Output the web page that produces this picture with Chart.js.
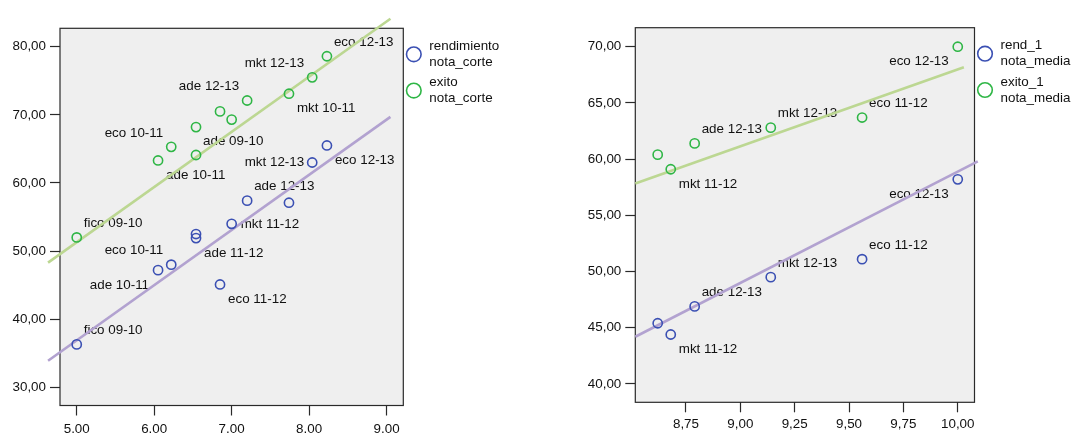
<!DOCTYPE html>
<html>
<head>
<meta charset="utf-8">
<script src="https://cdn.jsdelivr.net/npm/chart.js@4.4.0/dist/chart.umd.min.js"></script>
<style>
    html, body { margin: 0; padding: 0; background: #fff; }
    #wrap { position: relative; width: 1072px; height: 433px; overflow: hidden; }
    canvas { position: absolute; top: 0; }
    #left { left: 0; }
    #right { left: 540px; }
</style>
</head>
<body>
<div id="wrap">
    <canvas id="left" width="540" height="433"></canvas>
    <canvas id="right" width="532" height="433"></canvas>
</div>
<script>
// ---- left panel: nota_corte ----
const corteX      = [5.00, 6.05, 6.22, 6.54, 6.54, 6.85, 7.00, 7.20, 7.74, 8.04, 8.23];
const corteRend   = [36.3, 47.2, 48.0, 52.5, 51.9, 45.1, 54.0, 57.4, 57.1, 63.0, 65.5];
const corteExito  = [52.0, 63.3, 65.3, 64.1, 68.2, 70.5, 69.3, 72.1, 73.1, 75.5, 78.6];
const corteNames  = ['fico 09-10', 'ade 10-11', 'eco 10-11', 'ade 09-10', 'ade 11-12', 'eco 11-12',
                     'mkt 11-12', 'ade 12-13', 'mkt 10-11', 'mkt 12-13', 'eco 12-13'];
// where each name sits next to its point (null = not labelled)
const corteRendPlace  = ['ur', 'dl', 'ul', null, 'dr', 'dr', 'r', 'ur', null, 'l', 'dr'];
const corteExitoPlace = ['ur', 'dr', 'ul', 'ur', null, null, null, 'ul', 'dr', 'ul', 'ur'];
// fit lines (end points)
const corteFitX     = [4.63, 9.05];
const corteFitRend  = [33.9, 69.7];
const corteFitExito = [48.3, 84.1];
const corteXTicks = [5, 6, 7, 8, 9];
const corteYTicks = [30, 40, 50, 60, 70, 80];
const corteLegend = [['rendimiento', 'nota_corte'], ['exito', 'nota_corte']];

// ---- right panel: nota_media ----
const mediaX      = [8.62, 8.68, 8.79, 9.14, 9.56, 10.00];
const mediaRend   = [45.4, 44.4, 46.9, 49.5, 51.1, 58.2];
const mediaExito  = [60.4, 59.1, 61.4, 62.8, 63.7, 70.0];
const mediaNames  = ['', 'mkt 11-12', 'ade 12-13', 'mkt 12-13', 'eco 11-12', 'eco 12-13'];
const mediaRendPlace  = [null, 'dr', 'ur', 'ur', 'ur', 'dl'];
const mediaExitoPlace = [null, 'dr', 'ur', 'ur', 'ur', 'dl'];
const mediaFitRendX  = [8.517, 10.092];
const mediaFitRend   = [44.2, 59.8];
const mediaFitExitoX = [8.517, 10.028];
const mediaFitExito  = [57.84, 68.17];
const mediaXTicks = [8.75, 9.00, 9.25, 9.50, 9.75, 10.00];
const mediaYTicks = [40, 45, 50, 55, 60, 65, 70];
const mediaLegend = [['rend_1', 'nota_media'], ['exito_1', 'nota_media']];

const FONT_FAMILY = '"Liberation Sans", Arial, sans-serif';
const FONT_SIZE = 13.4;
const TEXT = '#111';
const BLUE = '#3b50b3';
const GREEN = '#2fb646';
const BLUE_FIT = '#b2a2d0';
const GREEN_FIT = '#bcd792';
const PLOT_BG = '#efefef';
const FRAME = '#2a2a2a';

// label offsets in px relative to the point: [dx, dy, align]
const PLACE = {
    ur: [7, -14, 'left'],
    ul: [-8, -14, 'right'],
    dr: [8, 15, 'left'],
    dl: [-9, 15, 'right'],
    r:  [9, 0, 'left'],
    l:  [-8, 0, 'right']
};

const pts = (xs, ys) => xs.map((x, i) => ({ x, y: ys[i] }));
const comma = v => v.toFixed(2).replace('.', ',');

/**
 * Plot background, frame, point names and legend
 */
const framePlugin = {
    id: 'frame',
    beforeDraw(chart) {
        const { ctx, chartArea: a } = chart;
        ctx.save();
        ctx.fillStyle = PLOT_BG;
        ctx.fillRect(a.left, a.top, a.right - a.left, a.bottom - a.top);
        ctx.restore();
    },
    beforeDatasetsDraw(chart) {
        const { ctx, chartArea: a } = chart;
        ctx.save();
        ctx.strokeStyle = FRAME;
        ctx.lineWidth = 1.2;
        ctx.strokeRect(a.left, a.top, a.right - a.left, a.bottom - a.top);

        // names next to the points (drawn under the marks)
        ctx.font = FONT_SIZE + 'px ' + FONT_FAMILY;
        ctx.fillStyle = TEXT;
        ctx.textBaseline = 'middle';
        chart.data.datasets.forEach((ds, i) => {
            if (!ds.names) return;
            const meta = chart.getDatasetMeta(i);
            meta.data.forEach((el, j) => {
                const p = ds.place[j];
                if (!p) return;
                const [dx, dy, align] = PLACE[p];
                ctx.textAlign = align;
                ctx.fillText(ds.names[j], el.x + dx, el.y + dy);
            });
        });
        ctx.restore();
    },
    afterDraw(chart) {
        const { ctx, chartArea: a } = chart;
        ctx.save();
        ctx.font = FONT_SIZE + 'px ' + FONT_FAMILY;
        ctx.textBaseline = 'middle';
        ctx.textAlign = 'left';
        let row = 0;
        chart.data.datasets.forEach(ds => {
            if (!ds.legendLines) return;
            const cy = a.top + 26 + row * 36.3;
            ctx.beginPath();
            ctx.arc(a.right + 10.5, cy, 7.3, 0, Math.PI * 2);
            ctx.strokeStyle = ds.borderColor;
            ctx.lineWidth = 1.6;
            ctx.stroke();
            ctx.fillStyle = TEXT;
            ds.legendLines.forEach((t, k) => ctx.fillText(t, a.right + 26, cy - 8 + k * 16));
            row++;
        });
        ctx.restore();
    }
};

function pointSet(xs, ys, color, names, place, legend) {
    return {
        data: pts(xs, ys),
        borderColor: color,
        backgroundColor: 'transparent',
        pointRadius: 4.6,
        pointBorderWidth: 1.6,
        pointStyle: 'circle',
        names, place,
        legendLines: legend,
        order: 0
    };
}

function fitSet(xs, ys, color) {
    return {
        data: pts(xs, ys),
        showLine: true,
        borderColor: color,
        borderWidth: 2.6,
        pointRadius: 0,
        clip: false,
        order: 1
    };
}

function axis(min, max, tickVals, fmt, fitFn, pad) {
    return {
        type: 'linear',
        min, max,
        afterBuildTicks: s => { s.ticks = tickVals.map(v => ({ value: v })); },
        afterFit: fitFn,
        grid: { drawOnChartArea: false, drawTicks: true, tickLength: 10, tickColor: FRAME, tickWidth: 1.2 },
        border: { display: false },
        ticks: {
            callback: v => fmt(v),
            font: { family: FONT_FAMILY, size: FONT_SIZE },
            color: TEXT,
            padding: pad,
            autoSkip: false,
            maxRotation: 0
        }
    };
}

function makeChart(id, datasets, xs, ys, padding) {
    return new Chart(document.getElementById(id), {
        type: 'scatter',
        data: { datasets },
        options: {
            responsive: false,
            animation: false,
            devicePixelRatio: 1,
            layout: { padding },
            plugins: { legend: { display: false }, tooltip: { enabled: false } },
            scales: { x: xs, y: ys }
        },
        plugins: [framePlugin]
    });
}

makeChart('left', [
    pointSet(corteX, corteRend, BLUE, corteNames, corteRendPlace, corteLegend[0]),
    pointSet(corteX, corteExito, GREEN, corteNames, corteExitoPlace, corteLegend[1]),
    fitSet(corteFitX, corteFitRend, BLUE_FIT),
    fitSet(corteFitX, corteFitExito, GREEN_FIT)
],
    axis(4.784, 9.216, corteXTicks, v => v.toFixed(2), s => { s.height = 27.5; }, 5.5),
    axis(27.33, 82.70, corteYTicks, comma, s => { s.width = 60; }, 4),
    { left: 0, top: 28.3, right: 136.7, bottom: 0 }
);

makeChart('right', [
    pointSet(mediaX, mediaRend, BLUE, mediaNames, mediaRendPlace, mediaLegend[0]),
    pointSet(mediaX, mediaExito, GREEN, mediaNames, mediaExitoPlace, mediaLegend[1]),
    fitSet(mediaFitRendX, mediaFitRend, BLUE_FIT),
    fitSet(mediaFitExitoX, mediaFitExito, GREEN_FIT)
],
    axis(8.517, 10.077, mediaXTicks, comma, s => { s.height = 30.7; }, 4),
    axis(38.37, 71.69, mediaYTicks, comma, s => { s.width = 95.3; }, 4),
    { left: 0, top: 27.7, right: 97.5, bottom: 0 }
);
</script>
</body>
</html>
